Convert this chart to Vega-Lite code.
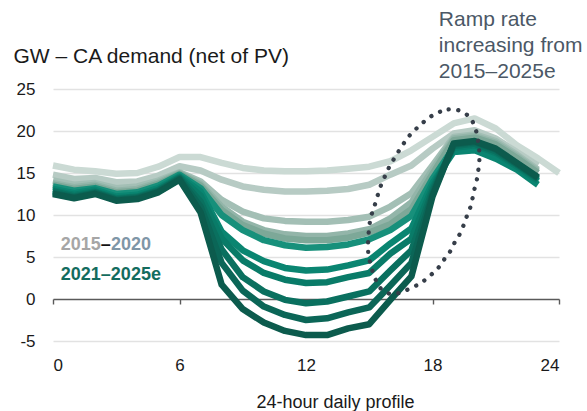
{
  "$schema": "https://vega.github.io/schema/vega-lite/v6.json",
  "autosize": {"type": "none"},
  "width": 506,
  "height": 252,
  "padding": {"left": 53, "top": 89, "right": 28, "bottom": 70},
  "background": "#ffffff",
  "config": {
    "font": "Liberation Sans",
    "view": {"stroke": null}
  },
  "datasets": {
    "profiles": [
      {"hour": 0, "2015": 15.9, "2016": 14.8, "2017": 14.1, "2018": 13.8, "2019": 13.6, "2020": 13.4, "2021": 13.1, "2022": 12.9, "2023": 12.8, "2024": 12.6, "2025": 12.5},
      {"hour": 1, "2015": 15.4, "2016": 14.3, "2017": 13.6, "2018": 13.3, "2019": 13.1, "2020": 12.9, "2021": 12.6, "2022": 12.4, "2023": 12.2, "2024": 12.1, "2025": 12.0},
      {"hour": 2, "2015": 15.2, "2016": 14.4, "2017": 13.8, "2018": 13.6, "2019": 13.4, "2020": 13.2, "2021": 13.0, "2022": 12.8, "2023": 12.7, "2024": 12.6, "2025": 12.5},
      {"hour": 3, "2015": 14.9, "2016": 13.9, "2017": 13.2, "2018": 12.9, "2019": 12.7, "2020": 12.5, "2021": 12.2, "2022": 12.0, "2023": 11.9, "2024": 11.8, "2025": 11.7},
      {"hour": 4, "2015": 15.0, "2016": 14.0, "2017": 13.4, "2018": 13.1, "2019": 12.9, "2020": 12.7, "2021": 12.4, "2022": 12.2, "2023": 12.1, "2024": 12.0, "2025": 11.9},
      {"hour": 5, "2015": 15.75, "2016": 14.7, "2017": 14.1, "2018": 13.9, "2019": 13.7, "2020": 13.5, "2021": 13.2, "2022": 13.0, "2023": 12.9, "2024": 12.8, "2025": 12.7},
      {"hour": 6, "2015": 16.9, "2016": 15.8, "2017": 15.1, "2018": 15.0, "2019": 14.9, "2020": 14.8, "2021": 14.6, "2022": 14.5, "2023": 14.4, "2024": 14.3, "2025": 14.2},
      {"hour": 7, "2015": 16.9, "2016": 15.3, "2017": 14.0, "2018": 13.7, "2019": 13.5, "2020": 13.2, "2021": 12.8, "2022": 12.3, "2023": 11.6, "2024": 11.0, "2025": 10.3},
      {"hour": 8, "2015": 16.2, "2016": 14.2, "2017": 11.8, "2018": 11.0, "2019": 10.6, "2020": 10.0, "2021": 8.0, "2022": 7.2, "2023": 5.9, "2024": 4.3, "2025": 1.7},
      {"hour": 9, "2015": 15.6, "2016": 13.4, "2017": 10.4, "2018": 9.2, "2019": 8.8, "2020": 8.2, "2021": 5.8, "2022": 4.6, "2023": 2.6, "2024": 1.0, "2025": -1.2},
      {"hour": 10, "2015": 15.3, "2016": 13.0, "2017": 9.6, "2018": 8.2, "2019": 7.8, "2020": 7.0, "2021": 4.5, "2022": 3.1, "2023": 0.9, "2024": -0.9, "2025": -2.8},
      {"hour": 11, "2015": 15.2, "2016": 12.8, "2017": 9.3, "2018": 7.7, "2019": 7.2, "2020": 6.4, "2021": 3.7, "2022": 2.3, "2023": -0.1, "2024": -1.9, "2025": -3.8},
      {"hour": 12, "2015": 15.2, "2016": 12.8, "2017": 9.2, "2018": 7.5, "2019": 7.0, "2020": 6.1, "2021": 3.4, "2022": 1.9, "2023": -0.5, "2024": -2.5, "2025": -4.3},
      {"hour": 13, "2015": 15.3, "2016": 12.9, "2017": 9.2, "2018": 7.5, "2019": 7.0, "2020": 6.2, "2021": 3.5, "2022": 2.0, "2023": -0.3, "2024": -2.3, "2025": -4.3},
      {"hour": 14, "2015": 15.5, "2016": 13.1, "2017": 9.4, "2018": 7.8, "2019": 7.3, "2020": 6.5, "2021": 4.0, "2022": 2.6, "2023": 0.3, "2024": -1.6, "2025": -3.5},
      {"hour": 15, "2015": 15.75, "2016": 13.6, "2017": 9.8, "2018": 8.3, "2019": 7.9, "2020": 7.1, "2021": 4.6, "2022": 3.1, "2023": 0.9, "2024": -1.0, "2025": -3.0},
      {"hour": 16, "2015": 16.4, "2016": 14.8, "2017": 11.0, "2018": 9.6, "2019": 8.9, "2020": 8.2, "2021": 6.6, "2022": 5.4, "2023": 3.4, "2024": 1.6, "2025": -0.1},
      {"hour": 17, "2015": 17.7, "2016": 15.9, "2017": 12.6, "2018": 11.5, "2019": 10.7, "2020": 9.9, "2021": 8.4, "2022": 7.2, "2023": 5.8, "2024": 4.3, "2025": 2.7},
      {"hour": 18, "2015": 19.3, "2016": 17.9, "2017": 15.9, "2018": 15.4, "2019": 14.9, "2020": 14.3, "2021": 13.8, "2022": 13.3, "2023": 12.9, "2024": 12.5, "2025": 12.2},
      {"hour": 19, "2015": 20.9, "2016": 19.7, "2017": 19.3, "2018": 19.1, "2019": 18.9, "2020": 18.0, "2021": 17.5, "2022": 18.0, "2023": 18.2, "2024": 18.4, "2025": 18.5},
      {"hour": 20, "2015": 21.5, "2016": 20.1, "2017": 19.6, "2018": 19.4, "2019": 19.2, "2020": 18.4, "2021": 17.7, "2022": 18.3, "2023": 18.5, "2024": 18.7, "2025": 18.8},
      {"hour": 21, "2015": 20.3, "2016": 19.1, "2017": 18.8, "2018": 18.6, "2019": 18.4, "2020": 17.6, "2021": 16.7, "2022": 17.4, "2023": 17.6, "2024": 17.8, "2025": 17.9},
      {"hour": 22, "2015": 18.3, "2016": 17.5, "2017": 17.2, "2018": 17.0, "2019": 16.8, "2020": 16.0, "2021": 15.4, "2022": 15.8, "2023": 16.0, "2024": 16.1, "2025": 16.2},
      {"hour": 23, "2015": 16.75, "2016": 15.9, "2017": 15.4, "2018": 15.2, "2019": 15.0, "2020": 14.0, "2021": 13.6, "2022": 14.1, "2023": 14.3, "2024": 14.4, "2025": 14.5},
      {"hour": 24, "2015": 15.0}
    ],
    "ellipse": [
      {"i": 1, "hour": 18.83, "gw": 22.58}, {"i": 2, "hour": 18.36, "gw": 22.3}, {"i": 3, "hour": 17.96, "gw": 21.79},
      {"i": 4, "hour": 17.6, "gw": 21.11}, {"i": 5, "hour": 17.25, "gw": 20.32}, {"i": 6, "hour": 16.93, "gw": 19.52},
      {"i": 7, "hour": 16.66, "gw": 18.61}, {"i": 8, "hour": 16.41, "gw": 17.65}, {"i": 9, "hour": 16.17, "gw": 16.67},
      {"i": 10, "hour": 15.94, "gw": 15.68}, {"i": 11, "hour": 15.75, "gw": 14.64}, {"i": 12, "hour": 15.56, "gw": 13.57},
      {"i": 13, "hour": 15.38, "gw": 12.18}, {"i": 14, "hour": 15.23, "gw": 10.92}, {"i": 15, "hour": 15.08, "gw": 9.8},
      {"i": 16, "hour": 15.0, "gw": 8.61}, {"i": 17, "hour": 14.96, "gw": 7.42}, {"i": 18, "hour": 14.94, "gw": 6.23},
      {"i": 19, "hour": 14.97, "gw": 5.15}, {"i": 20, "hour": 15.07, "gw": 4.05}, {"i": 21, "hour": 15.19, "gw": 3.06},
      {"i": 22, "hour": 15.35, "gw": 2.06}, {"i": 23, "hour": 15.59, "gw": 1.15}, {"i": 24, "hour": 16.02, "gw": 0.6},
      {"i": 25, "hour": 16.46, "gw": 0.75}, {"i": 26, "hour": 16.85, "gw": 1.15}, {"i": 27, "hour": 17.28, "gw": 1.67},
      {"i": 28, "hour": 17.64, "gw": 2.26}, {"i": 29, "hour": 18.01, "gw": 3.06}, {"i": 30, "hour": 18.32, "gw": 3.85},
      {"i": 31, "hour": 18.56, "gw": 4.73}, {"i": 32, "hour": 18.83, "gw": 5.63}, {"i": 33, "hour": 19.03, "gw": 6.63},
      {"i": 34, "hour": 19.27, "gw": 7.62}, {"i": 35, "hour": 19.46, "gw": 8.69}, {"i": 36, "hour": 19.62, "gw": 9.8},
      {"i": 37, "hour": 19.78, "gw": 10.8}, {"i": 38, "hour": 19.89, "gw": 11.9}, {"i": 39, "hour": 19.98, "gw": 12.98},
      {"i": 40, "hour": 20.1, "gw": 14.17}, {"i": 41, "hour": 20.17, "gw": 15.27}, {"i": 42, "hour": 20.22, "gw": 16.35},
      {"i": 43, "hour": 20.22, "gw": 17.54}, {"i": 44, "hour": 20.17, "gw": 18.61}, {"i": 45, "hour": 20.1, "gw": 19.73},
      {"i": 46, "hour": 19.94, "gw": 20.92}, {"i": 47, "hour": 19.7, "gw": 21.79}, {"i": 48, "hour": 19.3, "gw": 22.42}
    ],
    "legendText": [
      {"label": "2015", "hour": 0.37, "gw": 5.83},
      {"label": "–", "hour": 2.27, "gw": 5.83},
      {"label": "2020", "hour": 2.75, "gw": 5.83},
      {"label": "2021–2025e", "hour": 0.37, "gw": 2.26}
    ],
    "note": [
      {"label": "Ramp rate\nincreasing from\n2015–2025e", "hour": 18.3, "gw": 32.5}
    ]
  },
  "encoding": {
    "x": {
      "field": "hour",
      "type": "quantitative",
      "scale": {"domain": [0, 24], "nice": false, "zero": false},
      "axis": {
        "values": [0, 6, 12, 18, 24],
        "offset": -42,
        "grid": false,
        "domainColor": "#5a5a5a",
        "domainWidth": 1.4,
        "tickColor": "#5a5a5a",
        "tickWidth": 1.4,
        "tickSize": 5,
        "labelFontSize": 17,
        "labelColor": "#1a1a1a",
        "labelBaseline": "alphabetic",
        "labelPadding": 66,
        "labelExpr": "'' + datum.value",
        "title": "24-hour daily profile",
        "titleFontSize": 18,
        "titleFontWeight": "normal",
        "titleColor": "#1a1a1a",
        "titleAnchor": "start",
        "titleAlign": "center",
        "titleBaseline": "alphabetic",
        "titleX": 282,
        "titleY": 108
      }
    },
    "y": {
      "field": "gw",
      "type": "quantitative",
      "scale": {"domain": [-5, 25], "nice": false, "zero": false},
      "axis": {
        "values": [-5, 0, 5, 10, 15, 20, 25],
        "domain": false,
        "ticks": false,
        "grid": true,
        "gridColor": {"condition": {"test": "datum.value === 0", "value": "transparent"}, "value": "#e2e2e2"},
        "gridWidth": 1.3,
        "labelFontSize": 17,
        "labelColor": "#1a1a1a",
        "labelPadding": 18,
        "labelExpr": "'' + datum.value",
        "title": "GW – CA demand (net of PV)",
        "titleAngle": 0,
        "titleFontSize": 21,
        "titleFontWeight": "normal",
        "titleColor": "#1a1a1a",
        "titleAlign": "left",
        "titleBaseline": "alphabetic",
        "titleX": -40,
        "titleY": -27
      }
    }
  },
  "layer": [
    {
      "data": {"name": "profiles"},
      "transform": [
        {"fold": ["2015", "2016", "2017", "2018", "2019", "2020", "2021", "2022", "2023", "2024", "2025"], "as": ["year", "gw"]},
        {"filter": "datum.gw != null"}
      ],
      "mark": {"type": "line", "strokeWidth": 6.5, "strokeJoin": "round"},
      "encoding": {
        "color": {
          "field": "year",
          "type": "nominal",
          "scale": {
            "domain": ["2015", "2016", "2017", "2018", "2019", "2020", "2021", "2022", "2023", "2024", "2025"],
            "range": ["#cbdad4", "#b7cbc4", "#a3bfb5", "#93b5a9", "#7da898", "#17907b", "#0a8571", "#097b68", "#0a705f", "#0b6657", "#0c5b4d"]
          },
          "legend": null
        }
      }
    },
    {
      "data": {"name": "ellipse"},
      "mark": {"type": "line", "interpolate": "cardinal-closed", "color": "#363e49", "strokeWidth": 4.3, "strokeCap": "round", "strokeDash": [0.1, 9.6]},
      "encoding": {
        "order": {"field": "i", "type": "quantitative"}
      }
    },
    {
      "data": {"name": "legendText"},
      "mark": {"type": "text", "align": "left", "baseline": "alphabetic", "fontSize": 18, "fontWeight": "bold"},
      "encoding": {
        "text": {"field": "label"},
        "color": {
          "field": "label",
          "type": "nominal",
          "scale": {"domain": ["2015", "–", "2020", "2021–2025e"], "range": ["#a6a6a6", "#111111", "#7f96a7", "#136c5e"]},
          "legend": null
        }
      }
    },
    {
      "data": {"name": "note"},
      "mark": {"type": "text", "align": "left", "baseline": "alphabetic", "fontSize": 21, "lineHeight": 26, "lineBreak": "\n", "color": "#4b5866"},
      "encoding": {
        "text": {"field": "label"}
      }
    }
  ],
  "resolve": {"scale": {"color": "independent"}}
}
